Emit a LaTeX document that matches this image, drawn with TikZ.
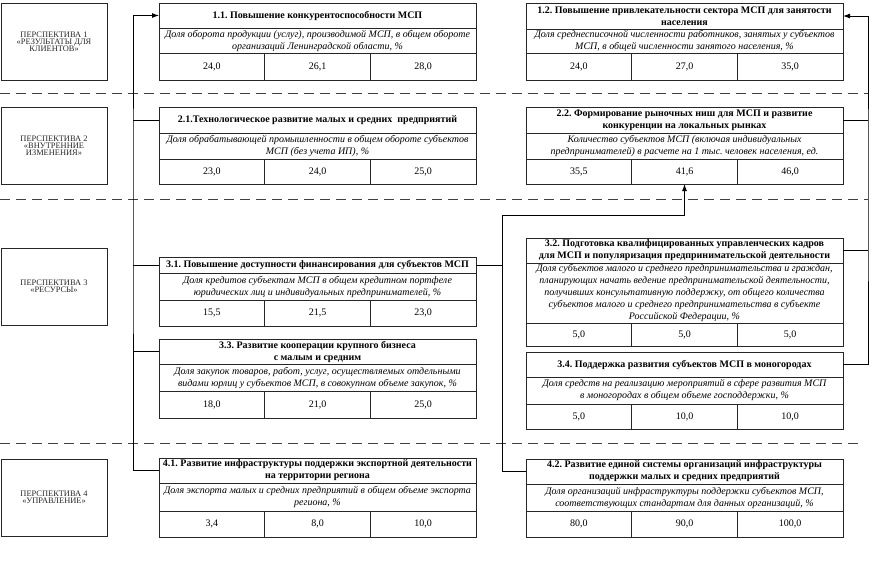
\documentclass[tikz,border=0pt]{standalone}
\usepackage{fontspec}
\setmainfont{Liberation Serif}
\usetikzlibrary{positioning,arrows.meta}
\frenchspacing

\newcommand{\perspfont}{\fontsize{8.4}{7.2}\selectfont\lineskiplimit=-6pt\relax}
\newcommand{\goal}[6]{%
\node[goaltitle, minimum height=#3, anchor=north west] (#1t) at (#2) {#5};
\node[goalind, minimum height=#4, below=0pt of #1t] (#1i) {#6};
}
\newcommand{\goalvals}[5]{%
\node[goalval, minimum height=#2, anchor=north west] (#1a) at (#1i.south west) {#3};
\node[goalval, minimum height=#2, right=0pt of #1a] (#1b) {#4};
\node[goalval, minimum height=#2, right=0pt of #1b] (#1c) {#5};
}

\tikzset{
  persp/.style={draw=black!85, line width=1pt, minimum width=106pt, minimum height=77pt,
    anchor=north west, align=center, text=black!85, inner sep=0pt, outer sep=0pt,
    font=\perspfont},
  goaltitle/.style={draw=black!85, line width=1pt, minimum width=317pt,
    align=center, inner xsep=1pt, inner ysep=0pt, outer sep=0pt,
    font=\bfseries\fontsize{10}{12}\selectfont},
  goalind/.style={goaltitle, font=\itshape\fontsize{10}{12}\selectfont},
  goalval/.style={draw=black!85, line width=1pt, minimum width=105.667pt, inner sep=0pt,
    outer sep=0pt, font=\fontsize{10}{12}\selectfont},
  conn/.style={line width=0.9pt, black},
  sepline/.style={line width=0.9pt, black!75, dash pattern=on 10pt off 6pt}
}

\begin{document}
\begin{tikzpicture}[x=1pt, y=-1pt, >={Latex[length=7pt,width=5pt]}]

\useasboundingbox (0,0) rectangle (884,576);

%separators
\draw[sepline] (0,93) -- (868,93);
\draw[sepline] (0,199) -- (868,199);
\draw[sepline] (0,443) -- (862,443);

%%% perspectives
\node[persp] (p1) at (1,3) {ПЕРСПЕКТИВА 1\\«РЕЗУЛЬТАТЫ ДЛЯ\\КЛИЕНТОВ»};
\node[persp] (p2) at (1,107) {ПЕРСПЕКТИВА 2\\«ВНУТРЕННИЕ\\ИЗМЕНЕНИЯ»};
\node[persp] (p3) at (1,248) {ПЕРСПЕКТИВА 3\\«РЕСУРСЫ»};
\node[persp] (p4) at (1,459) {ПЕРСПЕКТИВА 4\\«УПРАВЛЕНИЕ»};

%%% row 1
\goal{g11}{159,3}{25pt}{25pt}{1.1. Повышение конкурентоспособности МСП}
  {Доля оборота продукции (услуг), производимой МСП, в общем обороте\\организаций Ленинградской области, \%}
\goalvals{g11}{27pt}{24,0}{26,1}{28,0}

\goal{g12}{526,3}{26pt}{24pt}{1.2. Повышение привлекательности сектора МСП для занятости\\населения}
  {Доля среднесписочной численности работников, занятых у субъектов\\МСП, в общей численности занятого населения, \%}
\goalvals{g12}{27pt}{24,0}{27,0}{35,0}

%%% row 2
\goal{g21}{159,107}{26pt}{26pt}{2.1.Технологическое развитие малых и средних~ предприятий}
  {Доля обрабатывающей промышленности в общем обороте субъектов\\МСП (без учета ИП), \%}
\goalvals{g21}{25pt}{23,0}{24,0}{25,0}

\goal{g22}{526,107}{26pt}{26pt}{2.2. Формирование рыночных ниш для МСП и развитие\\конкуренции на локальных рынках}
  {Количество субъектов МСП (включая индивидуальных\\предпринимателей) в расчете на 1 тыс. человек населения, ед.}
\goalvals{g22}{25pt}{35,5}{41,6}{46,0}

%%% row 3
\goal{g31}{159,257}{16pt}{27pt}{3.1. Повышение доступности финансирования для субъектов МСП}
  {Доля кредитов субъектам МСП в общем кредитном портфеле\\юридических лиц и индивидуальных предпринимателей, \%}
\goalvals{g31}{26pt}{15,5}{21,5}{23,0}

\goal{g33}{159,339}{25pt}{27pt}{3.3. Развитие кооперации крупного бизнеса\\с малым и средним}
  {Доля закупок товаров, работ, услуг, осуществляемых отдельными\\видами юрлиц у субъектов МСП, в совокупном объеме закупок, \%}
\goalvals{g33}{27pt}{18,0}{21,0}{25,0}

\goal{g32}{526,238}{25pt}{60pt}{3.2. Подготовка квалифицированных управленческих кадров\\для МСП и популяризация предпринимательской деятельности}
  {Доля субъектов малого и среднего предпринимательства и граждан,\\планирующих начать ведение предпринимательской деятельности,\\получивших консультативную поддержку, от общего количества\\субъектов малого и среднего предпринимательства в субъекте\\Российской Федерации, \%}
\goalvals{g32}{23pt}{5,0}{5,0}{5,0}

\goal{g34}{526,352}{25pt}{27pt}{3.4. Поддержка развития субъектов МСП в моногородах}
  {Доля средств на реализацию мероприятий в сфере развития МСП\\в моногородах в общем объеме господдержки, \%}
\goalvals{g34}{25pt}{5,0}{10,0}{10,0}

%%% row 4
\goal{g41}{159,458}{25pt}{28pt}{4.1. Развитие инфраструктуры поддержки экспортной деятельности\\на территории региона}
  {Доля экспорта малых и средних предприятий в общем объеме экспорта\\региона, \%}
\goalvals{g41}{26pt}{3,4}{8,0}{10,0}

\goal{g42}{526,459}{25pt}{27pt}{4.2. Развитие единой системы организаций инфраструктуры\\поддержки малых и средних предприятий}
  {Доля организаций инфраструктуры поддержки субъектов МСП,\\соответствующих стандартам для данных организаций, \%}
\goalvals{g42}{26pt}{80,0}{90,0}{100,0}

%%% links
\coordinate (lbus) at (133,200);
\coordinate (mtop) at (502,215);
\coordinate (rbus) at (868,200);

%left
\draw[conn,->] (g41t.west) -| (lbus) |- (g11t.west);
\draw[conn] (g21t.west) -- (g21t.west -| lbus);
\draw[conn] (g31t.west) -- (g31t.west -| lbus);
\draw[conn] (g33t.west) -- (g33t.west -| lbus);

%middle
\draw[conn,->] (g42t.west) -| (mtop) -| (g22b.south);
\draw[conn] (g31t.east) -- (g31t.east -| mtop);

%right
\draw[conn,->] (g34t.east) -| (rbus) |- (g12t.east);
\draw[conn] (g22t.east) -- (g22t.east -| rbus);
\draw[conn] (g32t.east) -- (g32t.east -| rbus);

\end{tikzpicture}
\end{document}
